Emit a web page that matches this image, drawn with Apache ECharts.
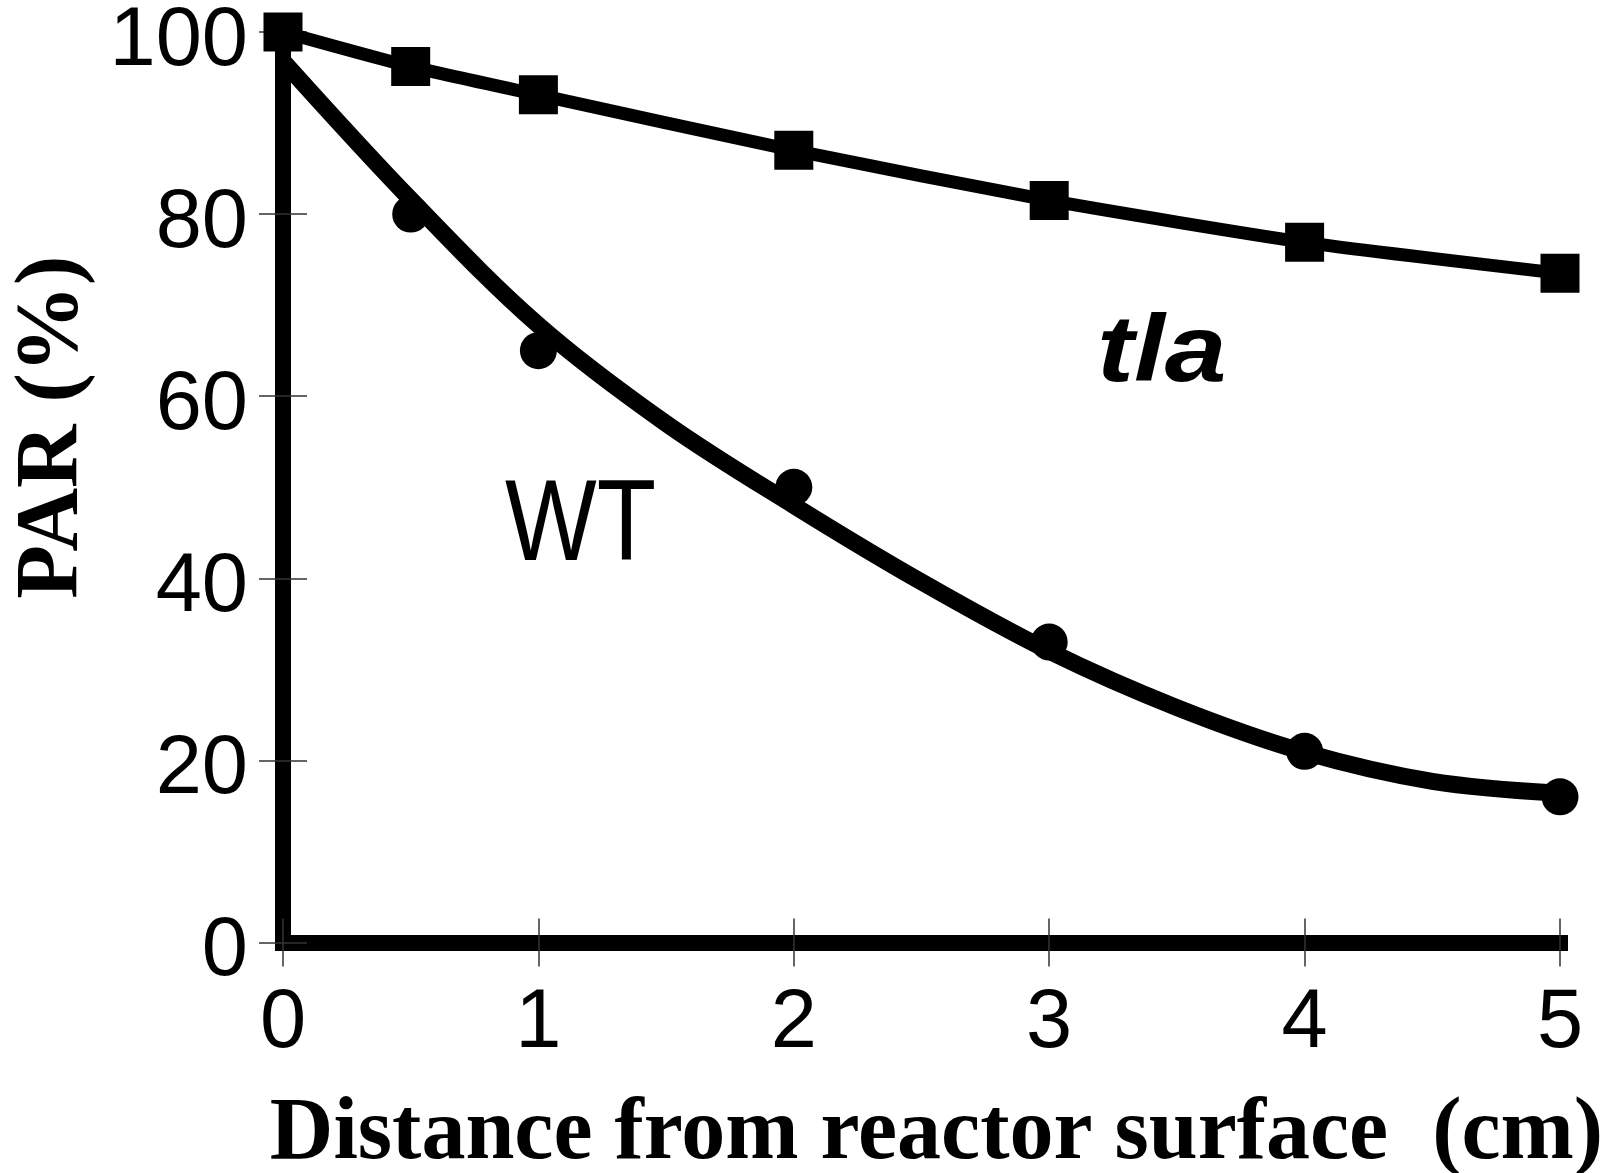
<!DOCTYPE html>
<html>
<head>
<meta charset="utf-8">
<script src="https://cdn.jsdelivr.net/npm/echarts@6/dist/echarts.min.js"></script>
<style>
html,body{margin:0;padding:0;background:#fff;}
#chart{width:1610px;height:1173px;}
</style>
</head>
<body>
<div id="chart"></div>
<script>
// Distance from reactor surface (cm)
const tlaX = [0, 0.5, 1, 2, 3, 4, 5];
const tlaY = [100, 96.2, 93.1, 87.0, 81.5, 76.9, 73.5];
const wtX = [0.5, 1, 2, 3, 4, 5];
const wtY = [80, 65, 50, 33, 21, 16];
// fitted WT curve
const wtFitX = [0, 0.5, 1, 1.5, 2, 2.5, 3, 3.5, 4, 4.5, 5];
const wtFitY = [96.8, 81.6, 67.8, 57.0, 48.0, 39.6, 32.0, 25.8, 20.9, 17.7, 16.4];
const xTickValues = [0, 1, 2, 3, 4, 5];
const yTickValues = [0, 20, 40, 60, 80, 100];

const zip = (xs, ys) => xs.map((x, i) => [x, ys[i]]);

const chart = echarts.init(document.getElementById('chart'), null, {renderer: 'canvas'});
const tickStyle = {color: '#333', width: 1.5};
const labelFont = {fontFamily: 'Liberation Sans, Arial, sans-serif', fontSize: 83, color: '#000'};

chart.setOption({
  animation: false,
  backgroundColor: '#fff',
  grid: {left: 283, top: 32, width: 1277, height: 910.5, containLabel: false, outerBoundsMode: 'none'},
  xAxis: [{
    type: 'value', min: 0, max: 5, interval: 1, position: 'bottom',
    axisLine: {show: true, onZero: false, lineStyle: {color: '#000', width: 16, cap: 'square'}},
    axisTick: {show: true, inside: false, length: 24, lineStyle: tickStyle},
    axisLabel: Object.assign({margin: 40}, labelFont),
    splitLine: {show: false},
    name: 'Distance from reactor surface  (cm)',
    nameLocation: 'middle', nameGap: 149,
    nameTextStyle: {fontFamily: 'Liberation Serif, Times New Roman, serif', fontWeight: 'bold', fontSize: 88, color: '#000', padding: [0, 0, 0, 30]}
  }, {
    type: 'value', min: 0, max: 5, interval: 1, position: 'bottom',
    axisLine: {show: false}, axisLabel: {show: false}, splitLine: {show: false},
    axisTick: {show: true, inside: true, length: 24, lineStyle: tickStyle}
  }],
  yAxis: [{
    type: 'value', min: 0, max: 100, interval: 20, position: 'left',
    axisLine: {show: true, onZero: false, lineStyle: {color: '#000', width: 16, cap: 'square'}},
    axisTick: {show: true, inside: false, length: 24, lineStyle: tickStyle},
    axisLabel: Object.assign({margin: 35, verticalAlign: 'top', lineHeight: 20}, labelFont),
    splitLine: {show: false},
    name: 'PAR (%)', nameLocation: 'middle', nameGap: 186, nameRotate: 90,
    nameTextStyle: {fontFamily: 'Liberation Serif, Times New Roman, serif', fontWeight: 'bold', fontSize: 88, color: '#000', padding: [0, 0, 0, 120]}
  }, {
    type: 'value', min: 0, max: 100, interval: 20, position: 'left',
    axisLine: {show: false}, axisLabel: {show: false}, splitLine: {show: false},
    axisTick: {show: true, inside: true, length: 24, lineStyle: tickStyle}
  }],
  series: [{
    name: 'WT fit', type: 'line', smooth: 0.35, showSymbol: false, symbol: 'none',
    data: zip(wtFitX, wtFitY), lineStyle: {color: '#000', width: 17}, z: 3
  }, {
    name: 'tla', type: 'line', smooth: 0.2, symbol: 'rect', symbolSize: 39,
    data: zip(tlaX, tlaY), lineStyle: {color: '#000', width: 13},
    itemStyle: {color: '#000', opacity: 1}, z: 4
  }, {
    name: 'WT', type: 'scatter', symbol: 'circle', symbolSize: 37,
    data: zip(wtX, wtY), itemStyle: {color: '#000', opacity: 1}, z: 5
  }],
  graphic: [{
    type: 'text', x: 1097, y: 308, scaleX: 1.18,
    style: {text: 'tla', x: 0, y: 0, textAlign: 'left', textVerticalAlign: 'top',
            font: 'italic bold 94px Liberation Sans, Arial, sans-serif', fill: '#000'}
  }, {
    type: 'text', x: 505, y: 471, scaleX: 0.845,
    style: {text: 'WT', x: 0, y: 0, textAlign: 'left', textVerticalAlign: 'top',
            font: '115px Liberation Sans, Arial, sans-serif', fill: '#000'}
  }]
});
</script>
</body>
</html>
